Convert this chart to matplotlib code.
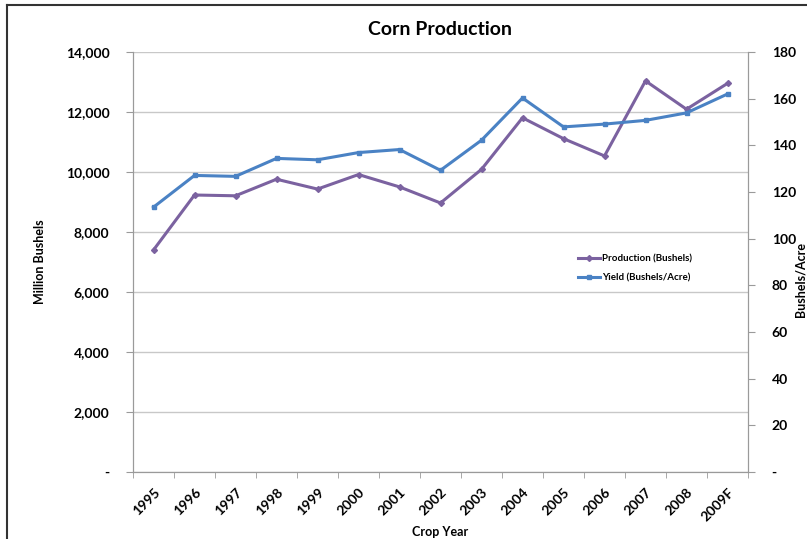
import numpy as np
import matplotlib
matplotlib.use("Agg")
import matplotlib.pyplot as plt
import matplotlib.ticker as ticker
from matplotlib.lines import Line2D

# Data
years = ["1995", "1996", "1997", "1998", "1999", "2000", "2001", "2002",
         "2003", "2004", "2005", "2006", "2007", "2008", "2009F"]
production = [7400, 9233, 9207, 9759, 9431, 9915, 9503, 8967,
              10089, 11807, 11112, 10535, 13038, 12092, 12954]
yield_bpa = [113.5, 127.1, 126.7, 134.4, 133.8, 136.9, 138.2, 129.3,
             142.2, 160.3, 147.9, 149.1, 150.7, 153.9, 162.0]

prod_color = "#7B62A0"
yield_color = "#4A82C4"
axis_gray = "#9A9A9A"

plt.rcParams["font.family"] = ["Lato", "DejaVu Sans"]
plt.rcParams["font.weight"] = "bold"

fig = plt.figure(figsize=(8.07, 5.39), dpi=100)
ax = fig.add_axes([133 / 807, 1 - 472 / 539, 615 / 807, 420 / 539])
ax2 = ax.twinx()

x = np.arange(len(years))
ax.plot(x, production, color=prod_color, lw=2.2, marker="D", ms=3,
        label="Production (Bushels)", zorder=3)
ax2.plot(x, yield_bpa, color=yield_color, lw=2.2, marker="s", ms=3.5,
         label="Yield (Bushels/Acre)", zorder=3)

# left axis
ax.set_ylim(0, 14000)
ax.set_yticks(np.arange(0, 14001, 2000))
ax.yaxis.set_major_formatter(ticker.FuncFormatter(
    lambda v, p: "-" if v == 0 else "{:,.0f}".format(v)))
ax.yaxis.grid(True, color="#C8C8C8", lw=1)
ax.set_axisbelow(True)

# right axis
ax2.set_ylim(0, 180)
ax2.set_yticks(np.arange(0, 181, 20))
ax2.yaxis.set_major_formatter(ticker.FuncFormatter(
    lambda v, p: "-" if v == 0 else "{:.0f}".format(v)))

# category axis
ax.set_xlim(-0.5, len(years) - 0.5)
ax.set_xticks(x)
ax.set_xticklabels(years, rotation=45, ha="right", rotation_mode="anchor")
ax.set_xticks(np.arange(-0.5, len(years)), minor=True)
ax.tick_params(axis="x", which="major", length=0, pad=10, labelsize=10)
ax.tick_params(axis="x", which="minor", length=4, color=axis_gray)
ax.tick_params(axis="y", length=5, color=axis_gray, labelsize=10, pad=12)
ax2.tick_params(axis="y", length=5, color=axis_gray, labelsize=10, pad=12)

for a in (ax, ax2):
    a.spines["top"].set_visible(False)
    for s in ("left", "right", "bottom"):
        a.spines[s].set_color(axis_gray)

ax.set_title("Corn Production", fontsize=14, fontweight="bold", pad=12)
ax.set_xlabel("Crop Year", fontsize=9, fontweight="bold", labelpad=2)
ax.set_ylabel("Million Bushels", fontsize=9, fontweight="bold", labelpad=14)
fig.text(806 / 807, 0.5 - 10 / 539, "Bushels/Acre", rotation=90,
         fontsize=9, fontweight="bold", ha="right", va="center")

h1, l1 = ax.get_legend_handles_labels()
h2, l2 = ax2.get_legend_handles_labels()
ax2.legend(h1 + h2, l1 + l2, loc="upper left", bbox_to_anchor=(0.71, 0.54),
           frameon=False, fontsize=7, handlelength=2.2, handletextpad=0.2,
           labelspacing=1.1, prop={"weight": "bold", "size": 7})

# outer chart frame (left and top edges visible)
fig.add_artist(Line2D([7 / 807, 7 / 807], [0, 1 - 5 / 539], color="#333333", lw=1.5))
fig.add_artist(Line2D([7 / 807, 1], [1 - 5 / 539, 1 - 5 / 539], color="#333333", lw=1.5))

fig.savefig("out.png", dpi=100)
